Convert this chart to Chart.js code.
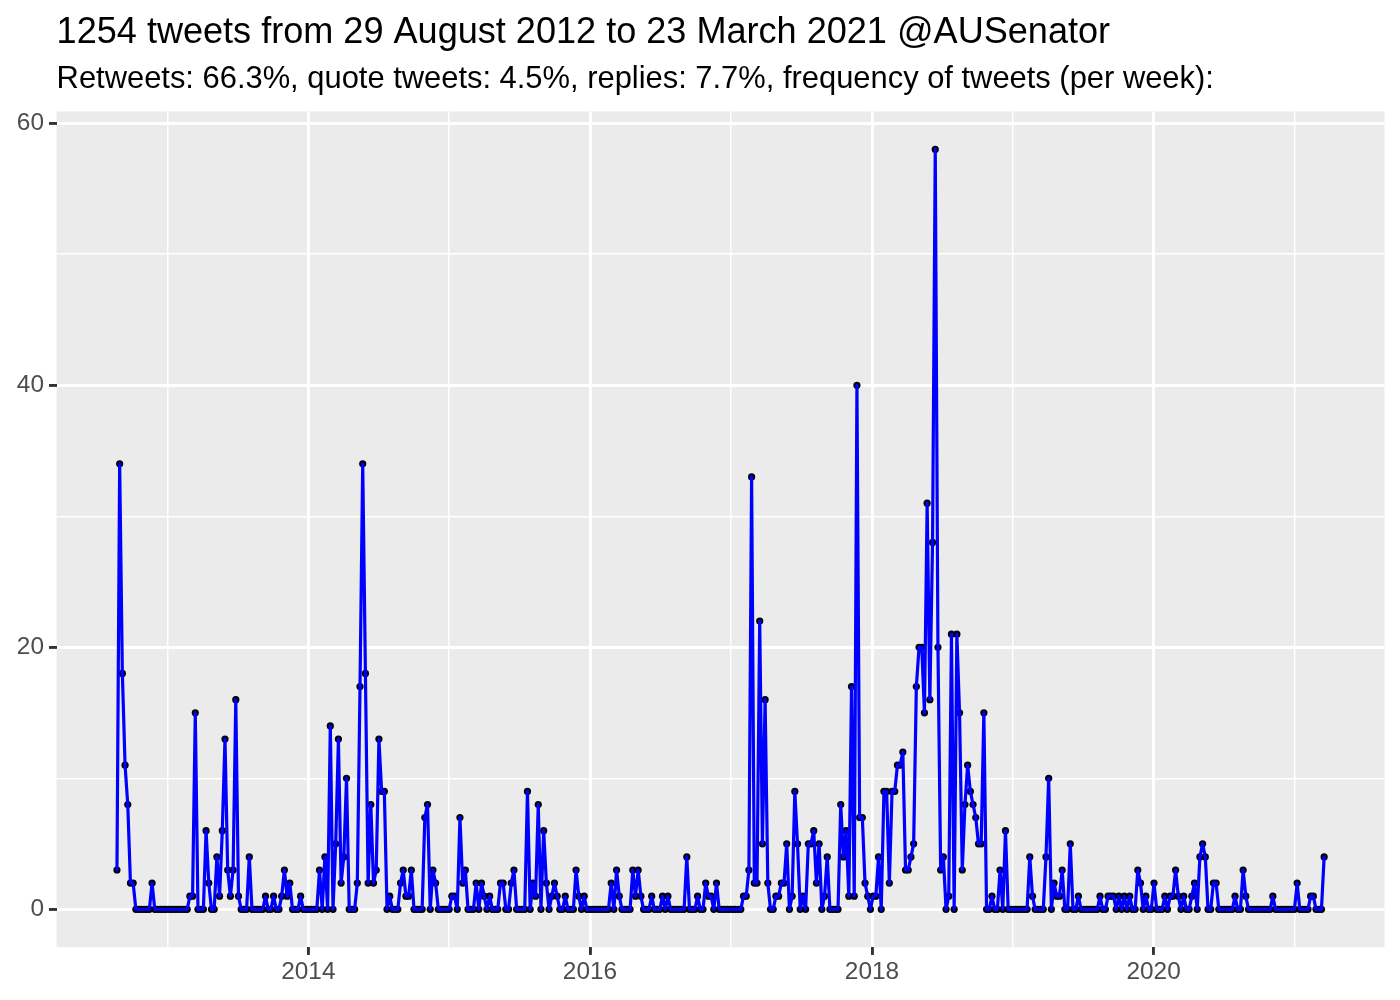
<!DOCTYPE html>
<html>
<head>
<meta charset="utf-8">
<script src="https://cdn.jsdelivr.net/npm/chart.js@4.4.1/dist/chart.umd.min.js"></script>
<style>
html,body{margin:0;padding:0;background:#ffffff;}
#wrap{width:1400px;height:1000px;position:relative;}
</style>
</head>
<body>
<div id="wrap"><canvas id="c" width="1400" height="1000"></canvas></div>
<script>
const titleText = '1254 tweets from 29 August 2012 to 23 March 2021 @AUSenator';
const subtitleText = 'Retweets: 66.3%, quote tweets: 4.5%, replies: 7.7%, frequency of tweets (per week):';
const firstWeek = '2012-08-23';
const weeklyTweets = [
  3,34,18,11,8,2,2, 0,0,0,0,0,0, 2, 0,0,0,0,0,0,0,0,0,0,0,0,0,
  1,1,15,0,0,0,6,2,0,0,4,1,6,13,3,1,3,16,1,0,0,0,4,
  0,0,0,0,0,
  1,0,0,1,0,0,1,3,1,2,0,0,0,1,
  0,0,0,0,0,0,
  3,0,4,0,14,0,5,13,2,4,10,0,0,0,2,17,34,18,2,8,2,3,13,9,9,
  0,1,0,0,0,2,3,1,1,3,0,0,0,0,7,8,0,3,2,
  0,0,0,0,0,
  1,1,0,7,2,3,0,0,0,2,0,2,1,0,1,0,0,0,2,2,0,0,2,3,0,0,0,0,
  9,0,2,1,8,0,6,2,0,1,2,1,0,0,1,0,0,0,3,1,0,1,
  0,0,0,0,0,0,0,0,0,
  2,0,3,1,0,0,0,0,3,1,3,1,0,0,0,1,0,0,0,1,0,1,
  0,0,0,0,0,0,
  4,0,0,0,1,0,0,2,1,1,0,2,
  0,0,0,0,0,0,0,0,0,
  1,1,3,33,2,2,22,5,16,2,0,0,1,1,2,2,5,0,1,9,5,0,1,0,5,5,6,2,5,0,
  1,4,0,0,0,0,8,4,6,1,17,1,40,7,7,2,1,0,1,1,4,0,9,9,2,9,9,11,11,12,3,3,4,5,17,20,20,15,
  31,16,28,58,20,3,4,0,1,21,0,21,15,3,8,11,9,8,7,5,5,15,0,0,1,0,0,3,0,6,
  0,0,0,0,0,0,0,0,
  4,1,0,0,0,0,4,10,0,2,1,1,3,0,0,5,0,0,1,0,0,0,0,0,0,0,1,0,0,1,1,1,0,1,0,1,0,1,
  0,0,3,2,0,1,0,0,2,0,0,0,1,0,1,1,3,1,0,1,0,0,1,2,0,4,5,4,0,0,2,2,
  0,0,0,0,0,0,
  1,0,0,3,1,0,0,0,0,0,0,0,0,0,1,0,0,0,0,0,0,0,0,2,0,0,0,0,1,1,0,0,0,4
];
const yTicks = [0, 20, 40, 60];
const yMinorTicks = [10, 30, 50];
const xTickYears = [2014, 2016, 2018, 2020];
const xMinorYears = [2013, 2015, 2017, 2019, 2021];

const DAY = 86400000;
const startDay = Date.parse(firstWeek + 'T00:00:00Z') / DAY;
const points = weeklyTweets.map((v, i) => ({x: startDay + 7 * i, y: v}));
const xFirst = points[0].x, xLast = points[points.length - 1].x;
const xPad = 0.05 * (xLast - xFirst);
const yMaxData = Math.max(...weeklyTweets), yMinData = Math.min(...weeklyTweets);
const yPad = 0.05 * (yMaxData - yMinData);
const yearDay = y => Date.UTC(y, 0, 1) / DAY;
const majorXDays = xTickYears.map(yearDay);
const allXYears = xTickYears.concat(xMinorYears).sort((a, b) => a - b);

const FONT = "'Liberation Sans', Arial, Helvetica, sans-serif";
Chart.defaults.font.family = FONT;

const panelBg = {
  id: 'panelBg',
  afterLayout(chart) {
    // align title and subtitle with the left edge of the panel
    chart.boxes.forEach(b => {
      if (b.options && (b.options.text === titleText || b.options.text === subtitleText)) {
        b.left = chart.chartArea.left;
        b.width = b.right - b.left;
      }
    });
  },
  beforeDraw(chart) {
    const {ctx, chartArea: a} = chart;
    ctx.save();
    ctx.fillStyle = '#FFFFFF';
    ctx.fillRect(0, 0, chart.width, chart.height);
    ctx.fillStyle = '#EBEBEB';
    ctx.fillRect(a.left, a.top, a.right - a.left, a.bottom - a.top);
    ctx.restore();
  }
};

new Chart(document.getElementById('c'), {
  type: 'line',
  data: {
    datasets: [
      {
        label: 'line',
        data: points,
        borderColor: '#0000FF',
        borderWidth: 3.2,
        borderJoinStyle: 'round',
        borderCapStyle: 'round',
        pointRadius: 0,
        tension: 0,
        order: 0
      },
      {
        label: 'points',
        data: points,
        showLine: false,
        pointRadius: 3.6,
        pointBackgroundColor: '#000000',
        pointBorderWidth: 0,
        pointBorderColor: '#000000',
        order: 1
      }
    ]
  },
  options: {
    responsive: false,
    animation: false,
    devicePixelRatio: 1,
    layout: {padding: {left: 0, right: 15.5, top: 0, bottom: 0}},
    plugins: {
      legend: {display: false},
      tooltip: {enabled: false},
      title: {
        display: true, text: titleText, align: 'start', color: '#000000',
        font: {size: 36.1, weight: 'normal', family: FONT, lineHeight: 1.2},
        padding: {top: 11.5, bottom: 0}
      },
      subtitle: {
        display: true, text: subtitleText, align: 'start', color: '#000000',
        font: {size: 30.9, weight: 'normal', family: FONT, lineHeight: 1.2},
        padding: {top: 6, bottom: 13.5}
      }
    },
    scales: {
      x: {
        type: 'linear',
        min: xFirst - xPad,
        max: xLast + xPad,
        afterBuildTicks: s => { s.ticks = allXYears.map(y => ({value: yearDay(y)})); },
        afterFit: s => { s.height = 52.7; },
        border: {display: false},
        grid: {
          color: '#FFFFFF',
          lineWidth: c => majorXDays.includes(c.tick && c.tick.value) ? 2.9 : 1.45,
          tickColor: c => majorXDays.includes(c.tick && c.tick.value) ? '#333333' : 'rgba(0,0,0,0)',
          tickWidth: 2.9,
          tickLength: 7.6,
          drawTicks: true
        },
        ticks: {
          autoSkip: false, maxRotation: 0, minRotation: 0,
          color: '#4D4D4D', padding: 3,
          font: {size: 24.4, family: FONT},
          callback: v => {
            const yr = new Date(v * DAY).getUTCFullYear();
            return xTickYears.includes(yr) && Math.abs(v - yearDay(yr)) < 1 ? String(yr) : '';
          }
        }
      },
      y: {
        type: 'linear',
        min: yMinData - yPad,
        max: yMaxData + yPad,
        afterBuildTicks: s => { s.ticks = yTicks.concat(yMinorTicks).sort((a, b) => a - b).map(v => ({value: v})); },
        afterFit: s => { s.width = 56.6; },
        border: {display: false},
        grid: {
          color: '#FFFFFF',
          lineWidth: c => yTicks.includes(c.tick && c.tick.value) ? 2.9 : 1.45,
          tickColor: c => yTicks.includes(c.tick && c.tick.value) ? '#333333' : 'rgba(0,0,0,0)',
          tickWidth: 2.9,
          tickLength: 7.6,
          drawTicks: true
        },
        ticks: {
          autoSkip: false,
          color: '#4D4D4D', padding: 5,
          font: {size: 24.4, family: FONT},
          callback: v => yTicks.includes(v) ? String(v) : ''
        }
      }
    }
  },
  plugins: [panelBg]
});
</script>
</body>
</html>
